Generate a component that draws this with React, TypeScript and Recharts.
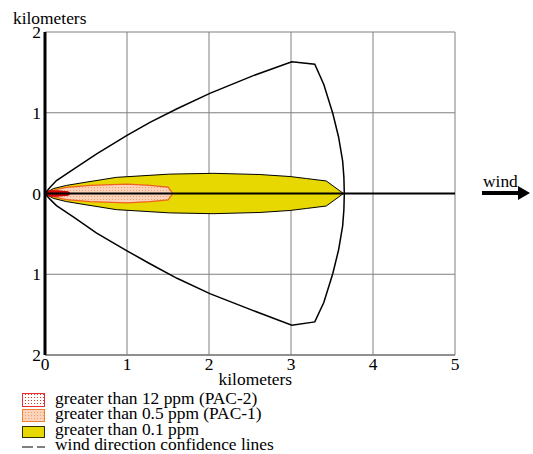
import React from 'react';
import { ComposedChart, Area, Line, XAxis, YAxis, CartesianGrid } from 'recharts';

const xTicks = [0, 1, 2, 3, 4, 5];
const yTicks = [-2, -1, 0, 1, 2];

// wind direction confidence lines
const confX = [0, 0.06, 0.14, 0.345, 0.63, 1.0, 1.28, 1.61, 2.01, 2.54, 3.01, 3.29, 3.4, 3.51, 3.58, 3.63, 3.645, 3.65];
const confUpper = [0, 0.075, 0.16, 0.3, 0.49, 0.72, 0.88, 1.05, 1.24, 1.46, 1.63, 1.6, 1.35, 0.99, 0.7, 0.4, 0.2, 0];
const confLower = [0, -0.07, -0.15, -0.29, -0.49, -0.71, -0.87, -1.05, -1.24, -1.45, -1.63, -1.59, -1.35, -0.99, -0.7, -0.4, -0.2, 0];

// greater than 0.1 ppm
const yellowX = [0, 0.1, 0.26, 0.5, 0.87, 1.52, 2.05, 2.62, 2.99, 3.19, 3.43, 3.64];
const yellowHi = [0, 0.06, 0.1, 0.14, 0.2, 0.24, 0.25, 0.235, 0.21, 0.185, 0.155, 0];
const yellowLo = [0, -0.06, -0.1, -0.14, -0.2, -0.24, -0.25, -0.235, -0.21, -0.185, -0.155, 0];

// greater than 0.5 ppm (PAC-1)
const orangeX = [0, 0.1, 0.26, 0.55, 1.0, 1.28, 1.5, 1.56];
const orangeHi = [0, 0.04, 0.075, 0.1, 0.115, 0.1, 0.08, 0];
const orangeLo = [0, -0.04, -0.075, -0.1, -0.115, -0.1, -0.08, 0];

// greater than 12 ppm (PAC-2)
const redX = [0, 0.05, 0.15, 0.28, 0.3];
const redHi = [0, 0.03, 0.03, 0.02, 0];
const redLo = [0, -0.03, -0.03, -0.02, 0];

// wind centerline
const centerX = [0, 5];
const centerY = [0, 0];

const legendItems = [
  'greater than 12 ppm (PAC-2)',
  'greater than 0.5 ppm (PAC-1)',
  'greater than 0.1 ppm',
  'wind direction confidence lines',
];

type Row = { x: number; [k: string]: any };
function buildRows(): Row[] {
  const map = new Map<number, Row>();
  const put = (x: number, key: string, v: any) => {
    if (!map.has(x)) map.set(x, { x });
    map.get(x)![key] = v;
  };
  confX.forEach((x, i) => { put(x, 'cu', confUpper[i]); put(x, 'cl', confLower[i]); });
  yellowX.forEach((x, i) => put(x, 'yellow', [yellowLo[i], yellowHi[i]]));
  orangeX.forEach((x, i) => put(x, 'orange', [orangeLo[i], orangeHi[i]]));
  redX.forEach((x, i) => put(x, 'red', [redLo[i], redHi[i]]));
  centerX.forEach((x, i) => put(x, 'center', centerY[i]));
  return Array.from(map.values()).sort((a, b) => a.x - b.x);
}
const rows = buildRows();

const FONT = "'Liberation Serif', 'Times New Roman', serif";

const XTick = (props: any) => {
  const { x, y, payload } = props;
  return (
    <text x={x} y={y} dy="0.71em" textAnchor="middle" fontFamily={FONT} fontSize={17.4} fill="#000">
      {String(payload.value)}
    </text>
  );
};
const YTick = (props: any) => {
  const { x, y, payload } = props;
  return (
    <text x={x} y={y} dy="0.355em" textAnchor="end" fontFamily={FONT} fontSize={17.4} fill="#000">
      {String(Math.abs(payload.value))}
    </text>
  );
};

export default function App() {
  return (
    <div style={{ position: 'absolute', left: 0, top: 0, width: 533, height: 454, background: '#fff', fontFamily: FONT }}>
      <svg width={0} height={0} style={{ position: 'absolute' }}>
        <defs>
          <pattern id="orangeDots" width="3" height="3" patternUnits="userSpaceOnUse">
            <rect width="3" height="3" fill="#fbd3ba" />
            <rect x="1" y="1" width="1" height="1" fill="#f2a070" />
          </pattern>
          <pattern id="redDots" width="3" height="3" patternUnits="userSpaceOnUse">
            <rect width="3" height="3" fill="#ffffff" />
            <rect x="1" y="1" width="1" height="1" fill="#e83030" />
          </pattern>
          <pattern id="redFill" width="2" height="2" patternUnits="userSpaceOnUse">
            <rect width="2" height="2" fill="#e02020" />
            <rect x="0" y="0" width="1" height="1" fill="#a00000" />
          </pattern>
        </defs>
      </svg>
      <ComposedChart width={533} height={454} data={rows} margin={{ top: 32, right: 78, bottom: 69, left: 0 }}>
        <CartesianGrid stroke="#808080" strokeWidth={1} />
        <XAxis
          type="number"
          dataKey="x"
          domain={[0, 5]}
          ticks={xTicks}
          interval={0}
          allowDataOverflow
          tickSize={0}
          tickMargin={3}
          height={30}
          axisLine={{ stroke: '#808080', strokeWidth: 1.5 }}
          tick={<XTick />}
        />
        <YAxis
          type="number"
          domain={[-2, 2]}
          ticks={yTicks}
          interval={0}
          allowDataOverflow
          width={45}
          tickSize={0}
          tickMargin={4}
          axisLine={{ stroke: '#000', strokeWidth: 3 }}
          tick={<YTick />}
        />
        <Area type="linear" dataKey="yellow" connectNulls stroke="#000" strokeWidth={1} fill="#e6d800" fillOpacity={1} isAnimationActive={false} dot={false} activeDot={false} />
        <Area type="linear" dataKey="orange" connectNulls stroke="#f06020" strokeWidth={1.2} fill="url(#orangeDots)" fillOpacity={1} isAnimationActive={false} dot={false} activeDot={false} />
        <Area type="linear" dataKey="red" connectNulls stroke="#d00000" strokeWidth={1.5} fill="url(#redFill)" fillOpacity={1} isAnimationActive={false} dot={false} activeDot={false} />
        <Line type="linear" dataKey="cu" connectNulls stroke="#000" strokeWidth={1.5} dot={false} activeDot={false} isAnimationActive={false} />
        <Line type="linear" dataKey="cl" connectNulls stroke="#000" strokeWidth={1.5} dot={false} activeDot={false} isAnimationActive={false} />
        <Line type="linear" dataKey="center" connectNulls stroke="#000" strokeWidth={2.2} dot={false} activeDot={false} isAnimationActive={false} />
      </ComposedChart>
      <svg width={533} height={454} style={{ position: 'absolute', left: 0, top: 0, pointerEvents: 'none' }}>
        <g fontFamily={FONT} fontSize={17.4} fill="#000">
          <text x={13} y={24}>kilometers</text>
          <text x={292} y={385} textAnchor="end">kilometers</text>
          <text x={483} y={187}>wind</text>
          <text x={55} y={403.5}>{legendItems[0]}</text>
          <text x={55} y={419}>{legendItems[1]}</text>
          <text x={55} y={434.5}>{legendItems[2]}</text>
          <text x={55} y={449.5}>{legendItems[3]}</text>
        </g>
        <line x1={482} y1={193} x2={520} y2={193} stroke="#000" strokeWidth={4} />
        <polygon points="518,186 530,193 518,200" fill="#000" />
        <rect x={22.5} y={393.5} width={22} height={13} fill="url(#redDots)" stroke="#e83030" strokeWidth={1} />
        <rect x={22.5} y={409.5} width={22} height={12} fill="url(#orangeDots)" stroke="#f08030" strokeWidth={1} />
        <rect x={22.5} y={426.5} width={22} height={11} fill="#e6d800" stroke="#303000" strokeWidth={1} />
        <line x1={22} y1={447} x2={33} y2={447} stroke="#000" strokeWidth={1} />
        <line x1={37} y1={447} x2={45} y2={447} stroke="#000" strokeWidth={1} />
      </svg>
    </div>
  );
}
